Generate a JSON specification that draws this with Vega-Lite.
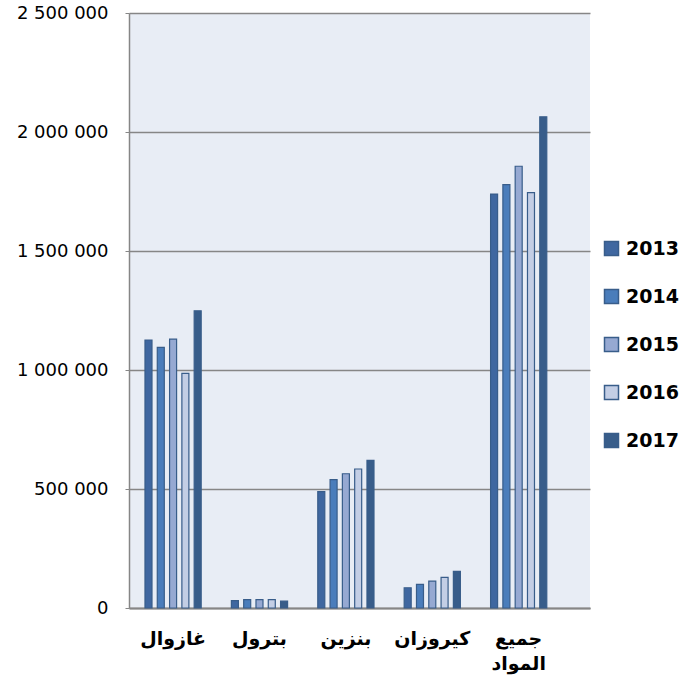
{
  "$schema": "https://vega.github.io/schema/vega-lite/v6.json",
  "width": 461,
  "height": 595,
  "autosize": {"type": "none"},
  "padding": {"left": 129, "top": 13, "right": 100, "bottom": 80},
  "background": "#ffffff",
  "data": {
    "values": [
      {"cat": "غازوال", "year": "2013", "value": 1126000},
      {"cat": "غازوال", "year": "2014", "value": 1095000},
      {"cat": "غازوال", "year": "2015", "value": 1130000},
      {"cat": "غازوال", "year": "2016", "value": 986000},
      {"cat": "غازوال", "year": "2017", "value": 1249000},
      {"cat": "بترول", "year": "2013", "value": 31000},
      {"cat": "بترول", "year": "2014", "value": 35000},
      {"cat": "بترول", "year": "2015", "value": 35000},
      {"cat": "بترول", "year": "2016", "value": 35000},
      {"cat": "بترول", "year": "2017", "value": 29000},
      {"cat": "بنزين", "year": "2013", "value": 489000},
      {"cat": "بنزين", "year": "2014", "value": 539000},
      {"cat": "بنزين", "year": "2015", "value": 564000},
      {"cat": "بنزين", "year": "2016", "value": 584000},
      {"cat": "بنزين", "year": "2017", "value": 620000},
      {"cat": "كيروزان", "year": "2013", "value": 85000},
      {"cat": "كيروزان", "year": "2014", "value": 99000},
      {"cat": "كيروزان", "year": "2015", "value": 113000},
      {"cat": "كيروزان", "year": "2016", "value": 129000},
      {"cat": "كيروزان", "year": "2017", "value": 154000},
      {"cat": "جميع المواد", "year": "2013", "value": 1739000},
      {"cat": "جميع المواد", "year": "2014", "value": 1779000},
      {"cat": "جميع المواد", "year": "2015", "value": 1856000},
      {"cat": "جميع المواد", "year": "2016", "value": 1745000},
      {"cat": "جميع المواد", "year": "2017", "value": 2064000}
    ]
  },
  "mark": {"type": "bar", "stroke": "#385D8A", "strokeWidth": 1.2},
  "encoding": {
    "x": {
      "field": "cat",
      "type": "nominal",
      "sort": ["غازوال", "بترول", "بنزين", "كيروزان", "جميع المواد"],
      "scale": {"paddingInner": 0.3495, "paddingOuter": 0.3426, "align": 0.27},
      "axis": {
        "title": null,
        "labelAngle": 0,
        "labelFont": "DejaVu Sans",
        "labelFontSize": 19,
        "labelFontWeight": "bold",
        "labelColor": "#000000",
        "labelPadding": 21,
        "ticks": false,
        "domainColor": "#868686",
        "domainWidth": 2,
        "labelExpr": "split(datum.label, ' ')",
        "labelLineHeight": 25
      }
    },
    "xOffset": {
      "field": "year",
      "type": "nominal",
      "scale": {"paddingInner": 0.43, "paddingOuter": 0}
    },
    "y": {
      "field": "value",
      "type": "quantitative",
      "scale": {"domain": [0, 2500000], "nice": false},
      "axis": {
        "title": null,
        "values": [0, 500000, 1000000, 1500000, 2000000, 2500000],
        "labelExpr": "replace(format(datum.value, ','), /,/g, ' ')",
        "labelFont": "DejaVu Sans",
        "labelFontSize": 18,
        "labelColor": "#000000",
        "labelPadding": 17,
        "tickSize": 4,
        "tickColor": "#868686",
        "domainColor": "#868686",
        "domainWidth": 1.5,
        "grid": true,
        "gridColor": "#868686",
        "gridWidth": 1.5
      }
    },
    "color": {
      "field": "year",
      "type": "nominal",
      "scale": {
        "domain": ["2013", "2014", "2015", "2016", "2017"],
        "range": ["#3F67A0", "#4A7DBB", "#96A9D2", "#C3CEE5", "#385D8A"]
      },
      "legend": {
        "title": null,
        "orient": "none",
        "legendX": 473,
        "legendY": 226,
        "symbolType": "square",
        "symbolSize": 196,
        "symbolStrokeColor": "#385D8A",
        "symbolStrokeWidth": 1.5,
        "symbolOpacity": 1,
        "labelFont": "DejaVu Sans",
        "labelFontSize": 19,
        "labelFontWeight": "bold",
        "labelColor": "#000000",
        "labelOffset": 5,
        "rowPadding": 27
      }
    }
  },
  "config": {
    "view": {"fill": "#E8EDF5", "stroke": null}
  }
}
